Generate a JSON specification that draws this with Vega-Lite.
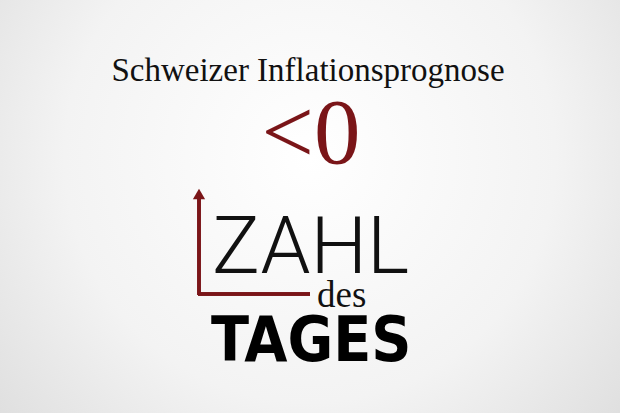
{
  "$schema": "https://vega.github.io/schema/vega-lite/v6.json",
  "width": 620,
  "height": 413,
  "padding": 0,
  "autosize": {"type": "fit", "contains": "padding"},
  "background": "#e4e4e4",
  "config": {"view": {"stroke": null}},
  "data": {
    "values": [
      {"item": "heading", "text": "Schweizer Inflationsprognose"},
      {"item": "number", "text": "<0"},
      {"item": "zahl", "text": "ZAHL"},
      {"item": "des", "text": "des"},
      {"item": "tages", "text": "TAGES"}
    ]
  },
  "encoding": {
    "x": {"type": "quantitative", "scale": {"domain": [0, 620], "nice": false, "zero": false}, "axis": null},
    "y": {"type": "quantitative", "scale": {"domain": [0, 413], "nice": false, "zero": false, "reverse": true}, "axis": null}
  },
  "layer": [
    {
      "transform": [{"filter": "datum.item === 'heading'"}],
      "mark": {
        "type": "rect",
        "fill": {
          "gradient": "radial",
          "x1": 0.5, "y1": 0.42, "r1": 0,
          "x2": 0.5, "y2": 0.42, "r2": 0.72,
          "stops": [
            {"offset": 0, "color": "#ffffff"},
            {"offset": 0.55, "color": "#f3f3f3"},
            {"offset": 1, "color": "#dadada"}
          ]
        }
      },
      "encoding": {
        "x": {"datum": 0}, "x2": {"datum": 620},
        "y": {"datum": 0}, "y2": {"datum": 413}
      }
    },
    {
      "mark": {"type": "rule", "color": "#7a1518", "strokeWidth": 3},
      "encoding": {
        "x": {"datum": 199}, "y": {"datum": 197}, "y2": {"datum": 295}
      }
    },
    {
      "mark": {"type": "rule", "color": "#7a1518", "strokeWidth": 3},
      "encoding": {
        "x": {"datum": 198}, "x2": {"datum": 310}, "y": {"datum": 294}
      }
    },
    {
      "transform": [{"filter": "datum.item === 'heading'"}],
      "mark": {"type": "point", "shape": "triangle-up", "filled": true, "color": "#7a1518", "size": 150, "opacity": 1},
      "encoding": {
        "x": {"datum": 199}, "y": {"datum": 194}
      }
    },
    {
      "transform": [{"filter": "datum.item === 'heading'"}],
      "mark": {"type": "text", "font": "Liberation Serif, Times New Roman, serif", "fontSize": 33, "color": "#111111", "align": "center", "baseline": "alphabetic"},
      "encoding": {"x": {"datum": 308}, "y": {"datum": 81}, "text": {"field": "text"}}
    },
    {
      "transform": [{"filter": "datum.item === 'number'"}],
      "mark": {"type": "text", "font": "Liberation Serif, Times New Roman, serif", "fontSize": 93, "color": "#7a1518", "align": "center", "baseline": "alphabetic"},
      "encoding": {"x": {"datum": 311}, "y": {"datum": 163}, "text": {"field": "text"}}
    },
    {
      "transform": [{"filter": "datum.item === 'zahl'"}],
      "mark": {"type": "text", "font": "Roboto, sans-serif", "fontWeight": 300, "fontSize": 80, "color": "#111111", "align": "left", "baseline": "alphabetic"},
      "encoding": {"x": {"datum": 212}, "y": {"datum": 273}, "text": {"field": "text"}}
    },
    {
      "transform": [{"filter": "datum.item === 'des'"}],
      "mark": {"type": "text", "font": "Liberation Serif, Times New Roman, serif", "fontSize": 37, "color": "#111111", "align": "left", "baseline": "alphabetic"},
      "encoding": {"x": {"datum": 317}, "y": {"datum": 307}, "text": {"field": "text"}}
    },
    {
      "transform": [{"filter": "datum.item === 'tages'"}],
      "mark": {"type": "text", "font": "DejaVu Sans Condensed, Roboto, sans-serif", "fontWeight": "bold", "fontSize": 62, "color": "#000000", "align": "left", "baseline": "alphabetic"},
      "encoding": {"x": {"datum": 211}, "y": {"datum": 361}, "text": {"field": "text"}}
    }
  ]
}
